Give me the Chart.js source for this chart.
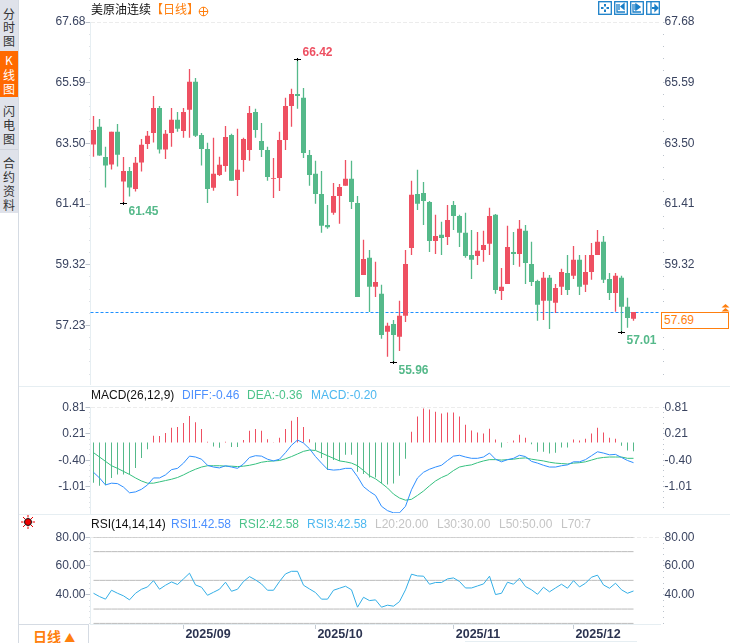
<!DOCTYPE html>
<html>
<head>
<meta charset="utf-8">
<title>美原油连续</title>
<script src="https://cdn.jsdelivr.net/npm/chart.js@4/dist/chart.umd.min.js"></script>
<style>
html, body { margin: 0; padding: 0; background: #fff; }
#page { position: relative; width: 730px; height: 643px; overflow: hidden; font: 12px "Liberation Sans", "Noto Sans CJK SC", sans-serif; }
#page canvas { position: absolute; left: 0; }
.abs { position: absolute; white-space: nowrap; line-height: 14px; }
.tab { position: absolute; left: 2px; width: 14px; text-align: center; font-family: "Noto Sans CJK SC", sans-serif; font-size: 12px; word-break: break-all; color: #333; }
.rule { position: absolute; background: #e6eef2; }
</style>
</head>
<body>
<div id="page">
    <div class="abs" style="left:0;top:0;width:18px;height:213px;background:#dfe2ea"></div>
    <div class="abs" style="left:0;top:51px;width:18px;height:46px;background:#ff6a00"></div>
    <div class="abs" style="left:0;top:149px;width:18px;height:1px;background:#cfd3dc"></div>
    <div class="rule" style="left:18px;top:0;width:1px;height:643px;background:#d5dbe3"></div>
    <div class="tab" style="top:7px;line-height:13.4px">分时图</div>
    <div class="tab" style="top:53px;line-height:14.7px;color:#fff">K线图</div>
    <div class="tab" style="top:104px;line-height:14px">闪电图</div>
    <div class="tab" style="top:156px;line-height:14px">合约资料</div>

    <div class="rule" style="left:19px;top:386px;width:711px;height:1px"></div>
    <div class="rule" style="left:19px;top:514px;width:711px;height:1px"></div>
    <div class="rule" style="left:465px;top:641px;width:172px;height:1px"></div>

    <canvas id="priceChart" width="730" height="386" style="top:0"></canvas>
    <canvas id="macdChart" width="730" height="128" style="top:386px"></canvas>
    <canvas id="rsiChart" width="730" height="129" style="top:514px"></canvas>

    <div class="abs" style="left:91px;top:2px;color:#111;font-family:'Noto Sans CJK SC'">美原油连续</div>
    <div class="abs" style="left:151px;top:2px;color:#ff7f0e;font-family:'Noto Sans CJK SC'">【日线】</div>
    <svg class="abs" style="left:198px;top:6px" width="11" height="11" fill="none" stroke="#ff7f0e"><circle cx="5.5" cy="5.5" r="4.3"/><path d="M1 5.5h9M5.5 1v9"/></svg>

    <svg class="abs" style="left:598px;top:1px" width="62" height="14" fill="none" stroke="#1a7fc8" stroke-width="1.3">
        <rect x=".7" y=".7" width="12.6" height="12.6"/><path d="M7 3v2.500M7 8.500V11M3 7h2.500M8.500 7H11" stroke-width="2"/>
        <rect x="16.7" y=".7" width="12.6" height="12.6"/><path d="M19 3v8h8M21 3v6"/><path d="M26 3v5l-3-2.500z" fill="#1a7fc8"/>
        <rect x="32.700" y=".7" width="12.6" height="12.6"/><path d="M35 3v8h8M37 3v6"/><path d="M38 3v6l4-3z" fill="#1a7fc8"/>
        <rect x="48.700" y=".7" width="12.6" height="12.6"/><path d="M53 1v12"/><path d="M54 7h4" stroke-width="2"/><path d="M57 4v6l3-3z" fill="#1a7fc8"/>
    </svg>

    <div class="abs" style="left:661px;top:312px;width:66px;height:15px;border:1.5px solid #ff7f0e;background:#fff"></div>
    <div class="abs" style="left:664px;top:313px;color:#ff7f0e">57.69</div>
    <svg class="abs" style="left:721px;top:304px" width="9" height="8" fill="#ff7f0e"><path d="M4.500 0l4 3.500H.5zM4.500 4l4 3.500H.5z"/></svg>

    <div class="abs" style="left:91px;top:388px;color:#111">MACD(26,12,9)</div>
    <div class="abs" style="left:182px;top:388px;color:#4d90fe">DIFF:-0.46</div>
    <div class="abs" style="left:247px;top:388px;color:#4cc38a">DEA:-0.36</div>
    <div class="abs" style="left:311px;top:388px;color:#4db8f0">MACD:-0.20</div>

    <svg class="abs" style="left:21px;top:515px" width="14" height="14"><g stroke="#e00" stroke-width="1"><path d="M7 0v2.500M7 11.500V14M0 7h2.500M11.500 7H14M2 2l2 2M10 10l2 2M2 12l2-2M10 4l2-2"/></g><circle cx="7" cy="7" r="3.500" fill="#e00" stroke="#111"/></svg>
    <div class="abs" style="left:91px;top:517px;color:#111">RSI(14,14,14)</div>
    <div class="abs" style="left:171px;top:517px;color:#4d90fe">RSI1:42.58</div>
    <div class="abs" style="left:239px;top:517px;color:#4cc38a">RSI2:42.58</div>
    <div class="abs" style="left:307px;top:517px;color:#4db8f0">RSI3:42.58</div>
    <div class="abs" style="left:375px;top:517px;color:#c4c4c4">L20:20.00</div>
    <div class="abs" style="left:437px;top:517px;color:#c4c4c4">L30:30.00</div>
    <div class="abs" style="left:499px;top:517px;color:#c4c4c4">L50:50.00</div>
    <div class="abs" style="left:561px;top:517px;color:#c4c4c4">L70:7</div>

    <div class="abs" style="left:19px;top:624px;width:69px;height:19px;border-top:1px solid #d5dbe3;border-right:1px solid #d5dbe3;background:#fff"></div>
    <div class="abs" style="left:33px;top:626px;color:#ff7f0e;font:bold 14px 'Noto Sans CJK SC'">日线 <span style="font-size:11px">▲</span></div>
</div>

<script>
const tradeDates = [
    "2025-08-11", "2025-08-12", "2025-08-13", "2025-08-14", "2025-08-15",
    "2025-08-18", "2025-08-19", "2025-08-20", "2025-08-21", "2025-08-22",
    "2025-08-25", "2025-08-26", "2025-08-27", "2025-08-28", "2025-08-29",
    "2025-09-01", "2025-09-02", "2025-09-03", "2025-09-04", "2025-09-05",
    "2025-09-08", "2025-09-09", "2025-09-10", "2025-09-11", "2025-09-12",
    "2025-09-15", "2025-09-16", "2025-09-17", "2025-09-18", "2025-09-19",
    "2025-09-22", "2025-09-23", "2025-09-24", "2025-09-25", "2025-09-26",
    "2025-09-29", "2025-09-30", "2025-10-01", "2025-10-02", "2025-10-03",
    "2025-10-06", "2025-10-07", "2025-10-08", "2025-10-09", "2025-10-10",
    "2025-10-13", "2025-10-14", "2025-10-15", "2025-10-16", "2025-10-17",
    "2025-10-20", "2025-10-21", "2025-10-22", "2025-10-23", "2025-10-24",
    "2025-10-27", "2025-10-28", "2025-10-29", "2025-10-30", "2025-10-31",
    "2025-11-03", "2025-11-04", "2025-11-05", "2025-11-06", "2025-11-07",
    "2025-11-10", "2025-11-11", "2025-11-12", "2025-11-13", "2025-11-14",
    "2025-11-17", "2025-11-18", "2025-11-19", "2025-11-20", "2025-11-21",
    "2025-11-24", "2025-11-25", "2025-11-26", "2025-11-27", "2025-11-28",
    "2025-12-01", "2025-12-02", "2025-12-03", "2025-12-04", "2025-12-05",
    "2025-12-08", "2025-12-09", "2025-12-10", "2025-12-11", "2025-12-12",
    "2025-12-15"
];
// empty slots to the right of the last candle
const blankSlots = ["", " ", "  ", "   "];
const monthDates = ["2025-09-01", "2025-10-01", "2025-11-03", "2025-12-01"];
const monthLabels = ["2025/09", "2025/10", "2025/11", "2025/12"];

const candleOpen = [63.46,64.07,63.03,62.77,63.90,62.19,62.55,61.93,62.84,63.48,63.86,64.72,63.29,63.86,64.31,63.93,64.66,65.62,63.79,63.31,61.97,62.41,62.72,63.79,62.24,62.93,63.27,64.58,63.58,63.27,62.28,62.31,63.62,64.79,65.20,65.07,63.10,62.45,61.76,60.69,61.11,61.69,62.04,62.28,61.45,58.97,59.56,58.56,58.32,57.01,57.28,56.84,57.56,59.90,61.76,61.79,61.48,60.14,60.35,60.28,61.38,61.00,60.42,59.66,59.62,59.83,60.04,61.04,58.42,58.66,59.76,59.69,60.49,59.35,58.76,58.08,58.87,58.01,58.56,59.04,58.94,59.49,58.63,59.07,59.66,60.11,58.83,58.35,58.87,57.87,57.46];
const candleClose = [63.96,63.08,62.74,63.90,63.11,62.55,61.98,62.83,63.45,63.76,64.72,63.29,63.83,64.31,64.00,64.58,65.62,63.76,63.31,61.93,62.45,62.76,63.72,62.21,62.59,63.65,64.55,63.96,63.27,62.34,62.31,63.62,64.79,65.20,65.13,63.17,62.41,61.76,60.66,60.61,61.69,62.00,62.28,61.48,58.21,59.52,58.56,58.73,56.90,57.22,56.90,57.56,59.35,61.73,61.42,61.52,60.14,60.31,60.24,60.86,61.00,60.42,59.62,59.49,59.80,60.00,61.00,58.45,58.56,59.93,59.69,60.56,59.38,58.73,57.94,58.87,58.08,58.52,59.07,58.45,59.49,58.56,59.07,59.66,60.11,58.80,58.35,58.94,57.87,57.49,57.69];
const candleHigh = [64.44,64.34,63.38,63.90,64.17,63.03,62.69,63.03,63.65,63.93,65.13,64.79,63.96,64.72,64.58,64.72,66.06,65.75,63.86,63.52,63.69,63.04,64.10,63.83,64.00,63.69,64.79,64.69,64.20,63.38,63.00,63.90,65.07,65.38,66.42,65.41,63.27,62.90,62.55,61.38,62.14,62.10,62.93,62.90,61.69,60.18,59.83,59.42,58.63,57.32,57.42,58.08,59.83,62.21,62.59,62.17,61.52,61.04,60.80,61.38,61.52,61.04,61.11,60.52,60.45,60.49,61.28,61.07,59.21,60.66,60.45,60.86,60.69,60.11,58.80,59.07,58.97,58.66,59.18,59.66,59.97,59.66,59.66,60.07,60.52,60.31,59.04,59.04,58.94,58.18,57.69];
const candleLow = [63.04,63.07,61.98,62.60,62.70,61.45,61.67,61.84,62.53,63.31,63.53,63.15,62.96,63.38,63.90,63.69,63.69,63.72,62.74,61.45,61.87,62.38,62.52,62.21,61.69,62.52,62.90,63.69,63.03,62.21,61.62,61.86,63.27,64.07,64.69,63.00,62.04,61.42,60.42,60.56,61.04,60.73,62.04,61.24,58.21,58.97,57.69,58.21,56.77,56.15,55.96,56.35,57.35,59.66,61.21,60.69,59.76,59.69,59.66,60.00,60.52,59.93,59.56,58.83,59.31,59.42,59.66,58.32,58.11,58.66,59.31,59.25,58.66,58.59,57.39,57.42,57.11,57.66,58.28,58.28,58.83,58.28,58.38,58.80,59.66,58.69,58.11,57.70,57.01,57.15,57.39];

const macdBars = [-0.92,-0.99,-0.98,-0.81,-0.73,-0.73,-0.73,-0.58,-0.35,-0.15,0.16,0.15,0.22,0.34,0.36,0.45,0.61,0.47,0.31,0.02,-0.09,-0.12,0.02,-0.10,-0.10,0.06,0.27,0.31,0.27,0.08,0.01,0.11,0.31,0.50,0.59,0.36,0.08,-0.17,-0.35,-0.63,-0.40,-0.42,-0.28,-0.28,-0.67,-0.72,-0.80,-0.80,-0.94,-0.96,-0.94,-0.76,-0.37,0.25,0.60,0.78,0.76,0.71,0.67,0.69,0.69,0.60,0.41,0.28,0.23,0.21,0.32,0.07,-0.11,0.01,0.05,0.18,0.11,-0.04,-0.21,-0.21,-0.25,-0.23,-0.11,-0.11,0.07,0.05,0.09,0.21,0.34,0.23,0.11,0.09,-0.07,-0.18,-0.20];
const diffLine = [-0.68,-0.81,-0.97,-0.93,-0.94,-1.02,-1.15,-1.13,-1.07,-0.97,-0.81,-0.81,-0.74,-0.62,-0.59,-0.47,-0.31,-0.33,-0.38,-0.52,-0.56,-0.58,-0.53,-0.56,-0.59,-0.49,-0.34,-0.30,-0.31,-0.38,-0.42,-0.38,-0.23,-0.06,0.06,-0.01,-0.14,-0.32,-0.47,-0.61,-0.63,-0.62,-0.59,-0.59,-0.78,-1.01,-1.12,-1.21,-1.46,-1.56,-1.61,-1.61,-1.46,-1.08,-0.81,-0.68,-0.61,-0.56,-0.52,-0.41,-0.31,-0.29,-0.33,-0.36,-0.36,-0.33,-0.24,-0.38,-0.44,-0.39,-0.36,-0.29,-0.32,-0.43,-0.47,-0.52,-0.56,-0.56,-0.53,-0.51,-0.44,-0.44,-0.39,-0.30,-0.21,-0.24,-0.28,-0.27,-0.34,-0.41,-0.46];
const deaLine = [-0.23,-0.33,-0.43,-0.53,-0.59,-0.66,-0.73,-0.81,-0.88,-0.93,-0.93,-0.90,-0.87,-0.84,-0.80,-0.74,-0.67,-0.61,-0.56,-0.53,-0.53,-0.53,-0.54,-0.54,-0.55,-0.54,-0.52,-0.49,-0.45,-0.43,-0.42,-0.41,-0.37,-0.32,-0.26,-0.20,-0.17,-0.18,-0.24,-0.30,-0.36,-0.42,-0.44,-0.47,-0.53,-0.64,-0.76,-0.83,-0.93,-1.04,-1.18,-1.27,-1.32,-1.30,-1.21,-1.11,-0.99,-0.88,-0.80,-0.74,-0.64,-0.56,-0.53,-0.51,-0.46,-0.42,-0.39,-0.39,-0.40,-0.39,-0.38,-0.36,-0.35,-0.38,-0.40,-0.42,-0.45,-0.47,-0.48,-0.49,-0.47,-0.46,-0.44,-0.40,-0.36,-0.34,-0.33,-0.33,-0.33,-0.36,-0.36];

const rsiValues = [41.0,38.7,36.9,43.1,41.0,39.2,36.4,41.0,43.8,45.4,49.8,43.8,46.6,48.9,47.1,51.0,55.0,46.8,45.2,39.6,41.7,43.8,48.7,42.4,43.8,49.2,52.6,50.3,47.5,43.1,43.1,49.2,54.5,56.3,56.3,46.6,44.0,41.5,36.9,36.9,43.1,44.5,45.9,43.4,31.3,38.2,35.9,36.4,31.3,32.7,32.0,35.2,43.4,54.3,53.1,52.9,47.3,48.5,48.5,51.0,51.7,49.2,44.7,44.7,46.1,47.5,52.9,40.1,41.0,48.7,47.3,51.5,45.7,43.4,40.3,45.2,42.0,44.7,47.3,44.5,49.8,45.4,48.0,52.2,53.6,46.8,44.5,48.0,43.4,41.0,42.58];
const rsiLevels = [80, 70, 50, 30, 20];

const priceTicks = ["67.68", "65.59", "63.50", "61.41", "59.32", "57.23"];
const macdTicks = ["0.81", "0.21", "-0.40", "-1.01"];
const rsiTicks = ["80.00", "60.00", "40.00"];
const lastPrice = 57.69;

// high/low marks: candle index, value, colour, text offset
const priceMarks = [
    { index: 34, value: 66.42, color: "#ee5062", dy: -7 },
    { index: 5, value: 61.45, color: "#55b98a", dy: 8 },
    { index: 50, value: 55.96, color: "#55b98a", dy: 8 },
    { index: 88, value: 57.01, color: "#55b98a", dy: 8 }
];

const RED = "#ee5062";
const GREEN = "#55b98a";
const TICK_TEXT = "#3a4460";
const FAINT = "#ececec";
const slots = tradeDates.concat(blankSlots);

function isLabelled(labels, value) {
    return labels.some(t => Math.abs(parseFloat(t) - value) < 0.03);
}

// labelled ticks plus the four small dots between each pair of them
function buildTickValues(labels, min) {
    const first = parseFloat(labels[0]);
    const last = parseFloat(labels[labels.length - 1]);
    const step = (first - last) / (labels.length - 1) / 5;
    const values = [];
    for (let v = first; v > min; v -= step) {
        values.push(v);
    }
    return values;
}

function labelFor(labels, value) {
    const hit = labels.find(t => Math.abs(parseFloat(t) - value) < 0.03);
    return hit || "";
}

function leftAxis(labels, min, max) {
    return {
        type: "linear",
        position: "left",
        min: min,
        max: max,
        afterFit: scale => {
            scale.width = 90.5;
            scale.paddingTop = 0;
            scale.paddingBottom = 0;
        },
        afterBuildTicks: scale => {
            scale.ticks = buildTickValues(labels, min).map(v => ({ value: v }));
        },
        ticks: {
            autoSkip: false,
            padding: 0,
            color: TICK_TEXT,
            font: { family: "Liberation Sans", size: 12 },
            callback: value => labelFor(labels, value)
        },
        border: { color: "#e6eef2", dash: [4, 2] },
        grid: {
            tickLength: 5,
            color: ctx => (ctx.tick && ctx.tick.value === max ? FAINT : "rgba(0,0,0,0)"),
            tickColor: "#bcc3cc",
            tickBorderDash: ctx => {
                const v = ctx.tick ? ctx.tick.value : 0;
                return isLabelled(labels, v) ? [] : [0, 4, 1, 1];
            }
        }
    };
}

function rightAxis(labels, min, max) {
    return {
        type: "linear",
        position: "right",
        display: true,
        min: min,
        max: max,
        afterFit: scale => {
            scale.width = 69.5;
            scale.paddingTop = 0;
            scale.paddingBottom = 0;
        },
        afterBuildTicks: scale => {
            scale.ticks = buildTickValues(labels, min).map(v => ({ value: v }));
        },
        ticks: {
            autoSkip: false,
            padding: 0,
            color: TICK_TEXT,
            font: { family: "Liberation Sans", size: 12 },
            callback: value => labelFor(labels, value)
        },
        border: { display: false },
        grid: {
            drawOnChartArea: false,
            tickLength: 4,
            tickColor: "#bcc3cc",
            tickBorderDash: ctx => {
                const v = ctx.tick ? ctx.tick.value : 0;
                return isLabelled(labels, v) ? [0, 2, 3, 0] : [0, 2, 1, 3];
            }
        }
    };
}

const hiddenX = { display: false, offset: true, grid: { offset: false } };

const baseOptions = {
    responsive: false,
    animation: false,
    devicePixelRatio: 1,
    events: [],
    plugins: { legend: { display: false }, title: { display: false }, tooltip: { enabled: false } }
};

const lastPricePlugin = {
    id: "lastPrice",
    beforeDatasetsDraw(chart) {
        const ctx = chart.ctx;
        const area = chart.chartArea;
        const y = Math.round(chart.scales.y.getPixelForValue(lastPrice)) + 0.5;
        ctx.save();
        ctx.strokeStyle = "#1e90ff";
        ctx.lineWidth = 1;
        ctx.setLineDash([3, 2]);
        ctx.beginPath();
        ctx.moveTo(area.left, y);
        ctx.lineTo(area.right, y);
        ctx.stroke();
        ctx.restore();
    }
};

const priceMarkPlugin = {
    id: "priceMarks",
    afterDatasetsDraw(chart) {
        const ctx = chart.ctx;
        ctx.save();
        ctx.font = "bold 12px 'Liberation Sans'";
        ctx.textBaseline = "middle";
        priceMarks.forEach(mark => {
            const x = chart.scales.x.getPixelForValue(mark.index);
            const y = Math.round(chart.scales.y.getPixelForValue(mark.value)) + 0.5;
            ctx.strokeStyle = "#000";
            ctx.lineWidth = 1;
            ctx.beginPath();
            ctx.moveTo(x - 3.5, y);
            ctx.lineTo(x + 3.5, y);
            ctx.moveTo(x, y - 1.5);
            ctx.lineTo(x, y + 1.5);
            ctx.stroke();
            ctx.fillStyle = mark.color;
            ctx.fillText(mark.value.toFixed(2), x + 5, y + mark.dy);
        });
        ctx.restore();
    }
};

const candleColors = candleClose.map((c, i) => {
    if (c === candleOpen[i]) return RED;
    return c > candleOpen[i] ? RED : GREEN;
});

new Chart(document.getElementById("priceChart"), {
    type: "bar",
    data: {
        labels: slots,
        datasets: [
            {
                label: "wick",
                data: candleLow.map((low, i) => [low, candleHigh[i]]),
                backgroundColor: candleColors,
                barThickness: 1.3,
                inflateAmount: 0,
                grouped: false,
                order: 2
            },
            {
                label: "body",
                data: candleOpen.map((o, i) => [Math.min(o, candleClose[i]), Math.max(o, candleClose[i])]),
                backgroundColor: candleColors,
                barThickness: 5,
                inflateAmount: 0,
                grouped: false,
                order: 1
            }
        ]
    },
    options: {
        ...baseOptions,
        layout: { padding: { top: 22, bottom: 2 } },
        scales: {
            x: hiddenX,
            y: leftAxis(priceTicks, 55.214, 67.68),
            yRight: rightAxis(priceTicks, 55.214, 67.68)
        }
    },
    plugins: [lastPricePlugin, priceMarkPlugin]
});

new Chart(document.getElementById("macdChart"), {
    type: "bar",
    data: {
        labels: slots,
        datasets: [
            {
                label: "MACD",
                data: macdBars,
                backgroundColor: macdBars.map(v => (v >= 0 ? RED : GREEN)),
                barThickness: 1,
                inflateAmount: 0,
                order: 3
            },
            {
                type: "line",
                label: "DEA",
                data: deaLine,
                borderColor: "#35c07f",
                borderWidth: 1,
                pointRadius: 0,
                tension: 0,
                order: 2
            },
            {
                type: "line",
                label: "DIFF",
                data: diffLine,
                borderColor: "#2f8fff",
                borderWidth: 1,
                pointRadius: 0,
                tension: 0,
                order: 1
            }
        ]
    },
    options: {
        ...baseOptions,
        layout: { padding: { top: 21.3, bottom: 1 } },
        scales: {
            x: hiddenX,
            y: leftAxis(macdTicks, -1.614, 0.81),
            yRight: rightAxis(macdTicks, -1.614, 0.81)
        }
    }
});

const rsiDatasets = rsiLevels.map(level => ({
    label: "L" + level,
    data: tradeDates.map(() => level),
    borderColor: "#bbbbbb",
    borderWidth: 1,
    pointRadius: 0,
    order: 2
}));
rsiDatasets.push({
    label: "RSI3",
    data: rsiValues,
    borderColor: "#33aee6",
    borderWidth: 1,
    pointRadius: 0,
    tension: 0,
    order: 1
});

new Chart(document.getElementById("rsiChart"), {
    type: "line",
    data: { labels: slots, datasets: rsiDatasets },
    options: {
        ...baseOptions,
        layout: { padding: { top: 23.3 } },
        scales: {
            x: {
                offset: true,
                afterFit: scale => { scale.height = 19; },
                border: { color: "#e6eef2" },
                grid: {
                    offset: false,
                    drawOnChartArea: false,
                    tickLength: 5,
                    tickColor: ctx => (ctx.tick && monthDates.includes(slots[ctx.index]) ? "#c4ccd4" : "rgba(0,0,0,0)")
                },
                ticks: {
                    autoSkip: false,
                    maxRotation: 0,
                    minRotation: 0,
                    padding: -2,
                    labelOffset: 24.5,
                    color: "#2b3350",
                    font: { family: "Liberation Sans", size: 12.5, weight: "bold" },
                    callback: function (value) {
                        const pos = monthDates.indexOf(slots[value]);
                        return pos >= 0 ? monthLabels[pos] : "";
                    }
                }
            },
            y: leftAxis(rsiTicks, 19.58, 80),
            yRight: rightAxis(rsiTicks, 19.58, 80)
        }
    }
});
</script>
</body>
</html>
